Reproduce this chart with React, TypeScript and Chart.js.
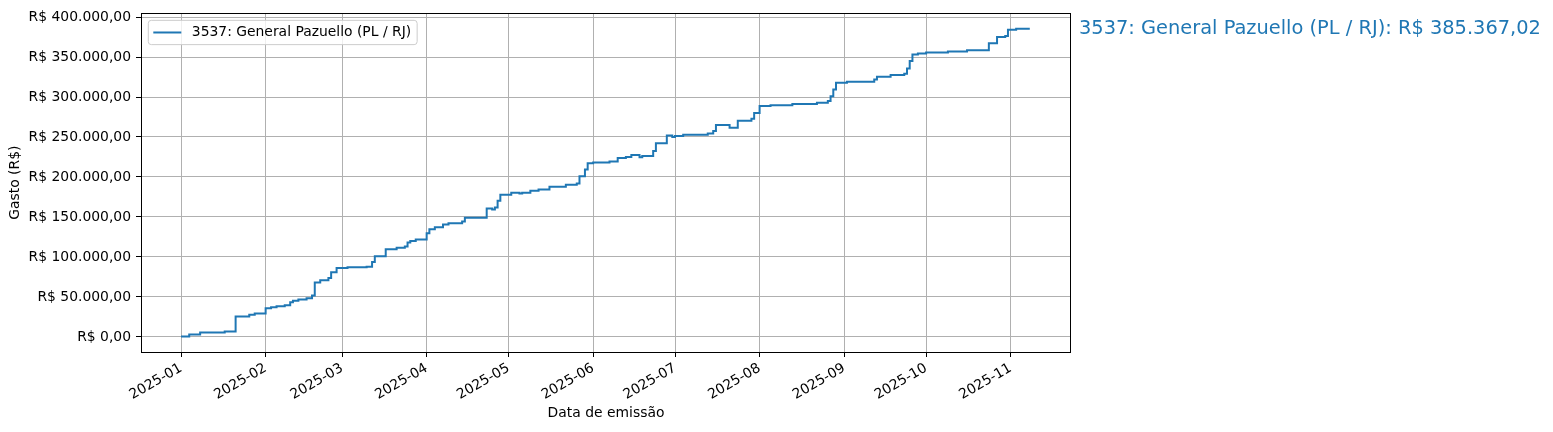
import React, { useEffect, useRef } from "react";
import { Chart, registerables } from "chart.js";

Chart.register(...registerables);

const SERIES_NAME = "3537: General Pazuello (PL / RJ)";
const X_TITLE = "Data de emissão";
const Y_TITLE = "Gasto (R$)";

const DATES = [
  "2025-01-01", "2025-01-04", "2025-01-08", "2025-01-17", "2025-01-21", "2025-01-26", "2025-01-28",
  "2025-02-01", "2025-02-03", "2025-02-05", "2025-02-08", "2025-02-10", "2025-02-11", "2025-02-13",
  "2025-02-16", "2025-02-18", "2025-02-19", "2025-02-21", "2025-02-24", "2025-02-25", "2025-02-27",
  "2025-03-03", "2025-03-10", "2025-03-12", "2025-03-13", "2025-03-17", "2025-03-21", "2025-03-24",
  "2025-03-25", "2025-03-26", "2025-03-28", "2025-04-01", "2025-04-02", "2025-04-04", "2025-04-07",
  "2025-04-09", "2025-04-14", "2025-04-15", "2025-04-23", "2025-04-25", "2025-04-26", "2025-04-27",
  "2025-04-28", "2025-05-02", "2025-05-05", "2025-05-06", "2025-05-09", "2025-05-12", "2025-05-16",
  "2025-05-22", "2025-05-26", "2025-05-27", "2025-05-29", "2025-05-30", "2025-06-01", "2025-06-07",
  "2025-06-10", "2025-06-13", "2025-06-15", "2025-06-18", "2025-06-19", "2025-06-23", "2025-06-24",
  "2025-06-28", "2025-06-30", "2025-07-01", "2025-07-04", "2025-07-13", "2025-07-15", "2025-07-16",
  "2025-07-21", "2025-07-24", "2025-07-29", "2025-07-30", "2025-08-01", "2025-08-05", "2025-08-13",
  "2025-08-22", "2025-08-26", "2025-08-27", "2025-08-28", "2025-08-29", "2025-09-02", "2025-09-12",
  "2025-09-13", "2025-09-18", "2025-09-23", "2025-09-24", "2025-09-25", "2025-09-26", "2025-09-28",
  "2025-10-01", "2025-10-09", "2025-10-16", "2025-10-24", "2025-10-27", "2025-10-30", "2025-10-31",
  "2025-11-03", "2025-11-08",
];

const TOTALS = [
  400, 3100, 5600, 6900, 25600, 27700, 29300,
  35900, 37200, 38400, 39700, 43400, 45100, 46800,
  48400, 51700, 68000, 70800, 73800, 80800, 86300,
  87000, 87900, 93800, 100800, 109500, 111600, 113000,
  118200, 120000, 121800, 129600, 134600, 137000, 140500,
  142000, 144400, 149000, 160600, 159400, 161900, 170200,
  177700, 180200, 179400, 180400, 182700, 184300, 187700,
  190200, 191800, 201000, 209300, 217300, 218000, 219200,
  223800, 225000, 227500, 224700, 226300, 232500, 242100,
  252000, 249900, 251200, 252800, 254500, 257400, 265000,
  261500, 270200, 272700, 279900, 288600, 289800, 291100,
  292800, 294900, 301100, 309500, 317800, 319000, 322000,
  325300, 327400, 329100, 335700, 344900, 353200, 354400,
  355600, 356900, 358500, 367200, 375000, 376300, 384200,
  385367.02, 385367.02,
];

const MONTH_TICKS = [
  "2025-01", "2025-02", "2025-03", "2025-04", "2025-05", "2025-06",
  "2025-07", "2025-08", "2025-09", "2025-10", "2025-11",
];

const Y_TICKS = [0, 50000, 100000, 150000, 200000, 250000, 300000, 350000, 400000];

// x-axis view limits, in days from 2025-01-01
const X_MIN_DAY = -14.67;
const X_MAX_DAY = 326.1;

const DAY_MS = 86400000;
const T0 = Date.UTC(2025, 0, 1);
function dayOf(s: string): number {
  const [y, m, d] = s.split("-").map(Number);
  return (Date.UTC(y, m - 1, d || 1) - T0) / DAY_MS;
}

function brl(v: number): string {
  const neg = v < 0;
  const fixed = Math.abs(v).toFixed(2);
  const [intPart, dec] = fixed.split(".");
  const withSep = intPart.replace(/\B(?=(\d{3})+(?!\d))/g, ".");
  return (neg ? "-" : "") + "R$ " + withSep + "," + dec;
}

const FONT = "'DejaVu Sans', sans-serif";
const BLUE = "#1f77b4";

export default function App() {
  const ref = useRef<HTMLCanvasElement>(null);

  useEffect(() => {
    document.body.style.margin = "0";
    const canvas = ref.current;
    if (!canvas) return;

    const xs = DATES.map(dayOf);
    const pts = xs.map((x, i) => ({ x, y: TOTALS[i] }));
    const yMinD = Math.min(...TOTALS);
    const yMaxD = Math.max(...TOTALS);
    const yPad = (yMaxD - yMinD) * 0.05;
    const monthVals = MONTH_TICKS.map(dayOf);
    const lastValue = TOTALS[TOTALS.length - 1];

    const overlay = {
      id: "mplOverlay",
      afterDatasetsDraw(chart: any) {
        const { ctx, chartArea } = chart;
        const { left, top, right, bottom } = chartArea;
        ctx.save();
        // spines
        ctx.strokeStyle = "#000";
        ctx.lineWidth = 1;
        const L = Math.round(left) + 0.5;
        const T = Math.round(top) + 0.5;
        const R = Math.round(right) - 0.5;
        const B = Math.round(bottom) + 0.5;
        ctx.strokeRect(L, T, R - L, B - T);

        // legend
        ctx.font = `13.9px ${FONT}`;
        const textW = ctx.measureText(SERIES_NAME).width;
        const bx = left + 7.3;
        const by = top + 7;
        const lineX0 = bx + 5;
        const lineX1 = lineX0 + 28;
        const textX = lineX1 + 10.5;
        const bw = textX - bx + textW + 6;
        const bh = 24.3;
        const r = 3;
        ctx.beginPath();
        ctx.moveTo(bx + r, by);
        ctx.lineTo(bx + bw - r, by);
        ctx.arcTo(bx + bw, by, bx + bw, by + r, r);
        ctx.lineTo(bx + bw, by + bh - r);
        ctx.arcTo(bx + bw, by + bh, bx + bw - r, by + bh, r);
        ctx.lineTo(bx + r, by + bh);
        ctx.arcTo(bx, by + bh, bx, by + bh - r, r);
        ctx.lineTo(bx, by + r);
        ctx.arcTo(bx, by, bx + r, by, r);
        ctx.closePath();
        ctx.fillStyle = "rgba(255,255,255,0.8)";
        ctx.fill();
        ctx.strokeStyle = "#cccccc";
        ctx.lineWidth = 1;
        ctx.stroke();
        ctx.strokeStyle = BLUE;
        ctx.lineWidth = 2;
        ctx.beginPath();
        ctx.moveTo(lineX0, by + bh / 2);
        ctx.lineTo(lineX1, by + bh / 2);
        ctx.stroke();
        ctx.fillStyle = "#000";
        ctx.textAlign = "left";
        ctx.textBaseline = "middle";
        ctx.fillText(SERIES_NAME, textX, by + bh / 2);

        // right-side annotation
        ctx.font = `19.4px ${FONT}`;
        ctx.fillStyle = BLUE;
        ctx.textBaseline = "alphabetic";
        ctx.fillText(`${SERIES_NAME}: ${brl(lastValue)}`, right + 8, top + 21);
        ctx.restore();
      },
    };

    const chart = new Chart(canvas, {
      type: "line",
      data: {
        datasets: [
          {
            label: SERIES_NAME,
            data: pts,
            borderColor: BLUE,
            backgroundColor: BLUE,
            borderWidth: 2,
            pointRadius: 0,
            stepped: "before",
            fill: false,
          },
        ],
      },
      options: {
        animation: false,
        responsive: false,
        devicePixelRatio: 1,
        layout: { padding: { left: 0, top: 12, right: 482, bottom: 0 } },
        plugins: {
          legend: { display: false },
          tooltip: { enabled: false },
        },
        scales: {
          x: {
            type: "linear",
            min: X_MIN_DAY,
            max: X_MAX_DAY,
            afterBuildTicks: (s: any) => {
              s.ticks = monthVals.map((v) => ({ value: v }));
            },
            afterFit: (s: any) => {
              s.height = 80;
            },
            ticks: {
              autoSkip: false,
              minRotation: 30,
              maxRotation: 30,
              padding: 3,
              color: "#000",
              font: { family: FONT, size: 13.9 },
              callback: (_v: any, i: number) => MONTH_TICKS[i],
            },
            grid: {
              color: "#b0b0b0",
              lineWidth: 1,
              tickColor: "#000",
              tickLength: 5,
              drawTicks: true,
            },
            border: { display: false },
            title: {
              display: true,
              text: X_TITLE,
              color: "#000",
              font: { family: FONT, size: 13.9 },
              padding: { top: 0, bottom: 10.2 },
            },
          },
          y: {
            type: "linear",
            min: yMinD - yPad,
            max: yMaxD + yPad,
            afterBuildTicks: (s: any) => {
              s.ticks = Y_TICKS.map((v) => ({ value: v }));
            },
            afterFit: (s: any) => {
              s.width = 141;
            },
            ticks: {
              autoSkip: false,
              padding: 5,
              color: "#000",
              font: { family: FONT, size: 13.9 },
              callback: (v: any) => brl(Number(v)),
            },
            grid: {
              color: "#b0b0b0",
              lineWidth: 1,
              tickColor: "#000",
              tickLength: 5,
              drawTicks: true,
            },
            border: { display: false },
            title: {
              display: true,
              text: Y_TITLE,
              color: "#000",
              font: { family: FONT, size: 13.9 },
              padding: { top: 6.7, bottom: 0 },
            },
          },
        },
      },
      plugins: [overlay],
    } as any);

    return () => chart.destroy();
  }, []);

  return (
    <div style={{ width: 1553, height: 432, background: "#fff" }}>
      <canvas ref={ref} width={1553} height={432} style={{ display: "block" }} />
    </div>
  );
}
